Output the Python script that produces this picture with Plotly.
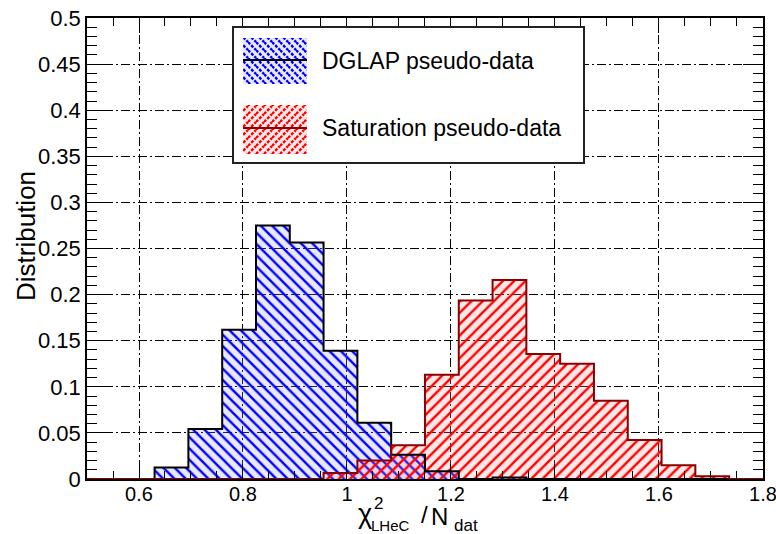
import base64
import plotly.graph_objects as go

# ---------------- data ----------------
bin_edges = [0.5, 0.565, 0.63, 0.695, 0.76, 0.825, 0.89, 0.955, 1.02, 1.085, 1.15,
             1.215, 1.28, 1.345, 1.41, 1.475, 1.54, 1.605, 1.67, 1.735, 1.8]
dglap = [0, 0, 0.0126, 0.0542, 0.1618, 0.2749, 0.2565, 0.139, 0.061, 0.0264,
         0.0083, 0, 0.0015, 0, 0, 0, 0, 0, 0, 0]
saturation = [0, 0, 0, 0, 0, 0, 0, 0.0065, 0.02, 0.0365, 0.1131, 0.1936, 0.216,
              0.1355, 0.125, 0.0849, 0.0423, 0.0148, 0.003, 0]
legend_labels = ["DGLAP pseudo-data", "Saturation pseudo-data"]
x_ticks = [0.6, 0.8, 1.0, 1.2, 1.4, 1.6, 1.8]
x_ticktext = ["0.6", "0.8", "1", "1.2", "1.4", "1.6", "1.8"]
y_ticks = [0, 0.05, 0.1, 0.15, 0.2, 0.25, 0.3, 0.35, 0.4, 0.45, 0.5]
y_ticktext = ["0", "0.05", "0.1", "0.15", "0.2", "0.25", "0.3", "0.35", "0.4", "0.45", "0.5"]

FONT = "Liberation Sans, Arial, Helvetica, sans-serif"
BLUE = "#0000ff"
RED = "#ff0000"
DARKRED = "#8b0000"

# ---------------- layout geometry (pixels) ----------------
W, H = 776, 534
ML, MR, MT, MB = 87, 13, 18, 55
PW, PH = W - ML - MR, H - MT - MB


def px(xp):
    return (xp - ML) / PW


def py(yp):
    return (H - MB - yp) / PH


centers = [(a + b) / 2 for a, b in zip(bin_edges[:-1], bin_edges[1:])]
widths = [b - a for a, b in zip(bin_edges[:-1], bin_edges[1:])]


def step(vals):
    xs = [bin_edges[0]] + bin_edges[:-1] + [bin_edges[-1]]
    ys = [0] + list(vals) + [0]
    return xs, ys


fig = go.Figure()

fig.add_trace(go.Bar(
    x=centers, y=dglap, width=widths,
    marker=dict(color=BLUE, line=dict(width=0),
                pattern=dict(shape="\\", fillmode="replace", size=8, solidity=0.3,
                             fgcolor=BLUE, bgcolor="rgba(150,150,255,0.22)")),
    showlegend=False, hoverinfo="skip"))
fig.add_trace(go.Bar(
    x=centers, y=saturation, width=widths,
    marker=dict(color=RED, line=dict(width=0),
                pattern=dict(shape="/", fillmode="replace", size=8, solidity=0.3,
                             fgcolor=RED, bgcolor="rgba(255,150,150,0.22)")),
    showlegend=False, hoverinfo="skip"))

xs, ys = step(dglap)
fig.add_trace(go.Scatter(x=xs, y=ys, mode="lines", line=dict(color="black", width=2, shape="hv"),
                         showlegend=False, hoverinfo="skip", cliponaxis=False))
xs, ys = step(saturation)
fig.add_trace(go.Scatter(x=xs, y=ys, mode="lines", line=dict(color=DARKRED, width=2, shape="hv"),
                         showlegend=False, hoverinfo="skip", cliponaxis=False))

fig.update_layout(
    width=W, height=H,
    margin=dict(l=ML, r=MR, t=MT, b=MB, autoexpand=False),
    paper_bgcolor="white", plot_bgcolor="white",
    barmode="overlay", bargap=0,
    font=dict(family=FONT, size=22, color="black"),
    showlegend=False,
)

grid_dash = "9px,3px,2px,3px"
fig.update_xaxes(
    range=[0.5, 1.8001], tickvals=x_ticks, ticktext=x_ticktext, automargin=False,
    showline=True, linecolor="black", linewidth=1.5, mirror="ticks",
    ticks="inside", ticklen=15, tickwidth=1.3, tickcolor="black",
    minor=dict(dtick=0.05, tick0=0, ticks="inside", ticklen=8, tickwidth=1.2, tickcolor="black", showgrid=False),
    showgrid=True, gridcolor="black", gridwidth=1, griddash=grid_dash,
    zeroline=False, tickfont=dict(size=20), layer="above traces",
    ticklabeloverflow="allow", ticklabelstandoff=-4,
)
fig.update_yaxes(
    range=[0, 0.5001], tickvals=y_ticks, ticktext=y_ticktext, automargin=False,
    showline=True, linecolor="black", linewidth=1.5, mirror="ticks",
    ticks="inside", ticklen=20, tickwidth=1.3, tickcolor="black",
    minor=dict(dtick=0.01, tick0=0, ticks="inside", ticklen=10, tickwidth=1.2, tickcolor="black", showgrid=False),
    showgrid=True, gridcolor="black", gridwidth=1, griddash=grid_dash,
    zeroline=False, tickfont=dict(size=22), layer="above traces",
    ticklabeloverflow="allow",
)

# ---------------- legend box (drawn as one SVG image, text as annotations) ----------------
LX0, LY0, LX1, LY1 = 232, 26, 585, 164
LW, LH = LX1 - LX0, LY1 - LY0


def legend_svg():
    back = "M-2,6 l4,4 M0,0 l8,8 M6,-2 l4,4"
    fwd = "M-2,2 l4,-4 M0,8 l8,-8 M6,10 l4,-4"
    svg = (
        f'<svg xmlns="http://www.w3.org/2000/svg" width="{LW}" height="{LH}" viewBox="0 0 {LW} {LH}">'
        '<defs>'
        '<pattern id="pb" width="8" height="8" patternUnits="userSpaceOnUse">'
        f'<rect width="8" height="8" fill="rgba(150,150,255,0.22)"/>'
        f'<path d="{back}" stroke="{BLUE}" stroke-width="2.4" stroke-dasharray="3,1.5"/></pattern>'
        '<pattern id="pr" width="8" height="8" patternUnits="userSpaceOnUse">'
        f'<rect width="8" height="8" fill="rgba(255,150,150,0.22)"/>'
        f'<path d="{fwd}" stroke="{RED}" stroke-width="2.4" stroke-dasharray="3,1.5"/></pattern>'
        '</defs>'
        f'<rect x="1" y="1" width="{LW - 2}" height="{LH - 2}" fill="white" stroke="#222222" stroke-width="2"/>'
        '<rect x="11" y="12" width="64" height="46" fill="url(#pb)"/>'
        '<line x1="11" y1="34" x2="75" y2="34" stroke="black" stroke-width="2"/>'
        '<rect x="11" y="79" width="64" height="49" fill="url(#pr)"/>'
        f'<line x1="11" y1="102" x2="75" y2="102" stroke="{DARKRED}" stroke-width="2"/>'
        '</svg>'
    )
    return "data:image/svg+xml;base64," + base64.b64encode(svg.encode()).decode()


fig.add_layout_image(source=legend_svg(), xref="paper", yref="paper",
                     x=px(LX0), y=py(LY0), sizex=px(LX1) - px(LX0), sizey=py(LY0) - py(LY1),
                     xanchor="left", yanchor="top", sizing="stretch", layer="above")
for label, yc in zip(legend_labels, [61, 128]):
    fig.add_annotation(text=label, xref="paper", yref="paper", x=px(320), y=py(yc),
                       xanchor="left", yanchor="middle", showarrow=False,
                       font=dict(family=FONT, size=23, color="black"))

# ---------------- axis titles ----------------
fig.add_annotation(text="Distribution", xref="paper", yref="paper", x=px(26), y=py(236),
                   xanchor="center", yanchor="middle", textangle=-90, showarrow=False,
                   font=dict(family=FONT, size=26, color="black"))
title_parts = [
    ("χ", 364.5, 514, 27, "center"),
    ("2", 378, 504, 17, "center"),
    ("LHeC", 369, 525, 15, "left"),
    ("/", 424, 514, 24, "center"),
    ("N", 439, 516, 24, "center"),
    ("dat", 452, 525, 17, "left"),
]
for txt, xc, yc, sz, anc in title_parts:
    fig.add_annotation(text=txt, xref="paper", yref="paper", x=px(xc), y=py(yc),
                       xanchor=anc, yanchor="middle", showarrow=False,
                       font=dict(family=FONT, size=sz, color="black"))

fig.write_html("out.html", config={"displayModeBar": False},
               post_script="document.body.style.margin='0';document.body.style.padding='0';")
